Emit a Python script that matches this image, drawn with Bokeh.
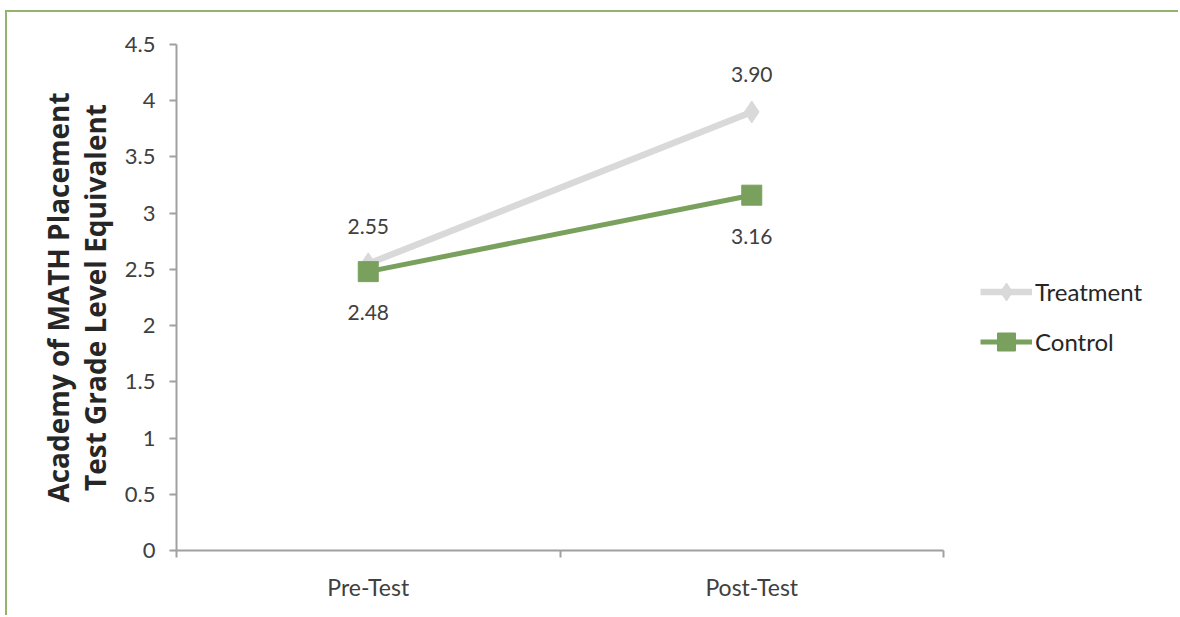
from bokeh.plotting import figure
from bokeh.models import (Range1d, LinearAxis, FixedTicker, Legend,
                          LegendItem, ColumnDataSource)
from bokeh.core.properties import value
from bokeh.embed import file_html
from bokeh.resources import INLINE

# Data
phases = ["Pre-Test", "Post-Test"]
treatment = [2.55, 3.90]
control = [2.48, 3.16]
treatment_labels = ["2.55", "3.90"]
control_labels = ["2.48", "3.16"]
y_ticks = [0, 0.5, 1, 1.5, 2, 2.5, 3, 3.5, 4, 4.5]
y_tick_labels = ["0", "0.5", "1", "1.5", "2", "2.5", "3", "3.5", "4", "4.5"]
title_lines = ["Academy of MATH Placement", "Test Grade Level Equivalent"]

GRAY = "#d9d9d9"
GREEN = "#79a05c"
AXIS = "#a0a0a0"
TEXT = "#404040"
FRAME = "#92b46e"
FONT = "Lato"

# each phase occupies one unit slot; points sit in the middle of their slot
centers = [i + 0.5 for i in range(len(phases))]
edges = list(range(len(phases) + 1))
n = len(phases)
# the plotting frame runs on to the right edge so the legend can live inside it;
# the x axis itself stops at the last slot boundary
x_end = n * 1004 / 767

p = figure(width=1173, height=605, x_range=Range1d(0, x_end),
           y_range=Range1d(0, 4.5), output_backend="svg", toolbar_location=None,
           x_axis_location=None, y_axis_location=None,
           min_border_left=169, min_border_right=0, min_border_top=32,
           min_border_bottom=67)
p.styles = {"border-left": f"2px solid {FRAME}", "border-top": f"2px solid {FRAME}",
            "margin-left": "5px", "margin-top": "10px"}
p.outline_line_color = None
p.grid.visible = False
p.background_fill_color = "white"

xaxis = LinearAxis(ticker=FixedTicker(ticks=centers, minor_ticks=edges), bounds=(0, n),
                   major_label_overrides={c: s for c, s in zip(centers, phases)})
xaxis.axis_line_color = AXIS
xaxis.axis_line_width = 2
xaxis.major_tick_line_color = None
xaxis.minor_tick_line_color = AXIS
xaxis.minor_tick_line_width = 2
xaxis.minor_tick_out = 7
xaxis.minor_tick_in = 0
xaxis.major_label_text_font = FONT
xaxis.major_label_text_font_size = "23px"
xaxis.major_label_text_color = TEXT
xaxis.major_label_standoff = 15
p.add_layout(xaxis, "below")

yaxis = LinearAxis(ticker=FixedTicker(ticks=y_ticks),
                   major_label_overrides={t: s for t, s in zip(y_ticks, y_tick_labels)})
yaxis.axis_line_color = AXIS
yaxis.axis_line_width = 2
yaxis.major_tick_line_color = AXIS
yaxis.major_tick_line_width = 2
yaxis.major_tick_out = 7
yaxis.major_tick_in = 0
yaxis.minor_tick_line_color = None
yaxis.major_label_text_font = FONT
yaxis.major_label_text_font_size = "22px"
yaxis.major_label_text_color = TEXT
yaxis.major_label_standoff = 14
yaxis.axis_label = title_lines[1]
yaxis.axis_label_standoff = 8
p.add_layout(yaxis, "left")

# outer line of the y title carried by a bare axis
yaxis2 = LinearAxis(ticker=FixedTicker(ticks=[]), axis_label=title_lines[0])
yaxis2.axis_line_color = None
yaxis2.major_tick_line_color = None
yaxis2.minor_tick_line_color = None
yaxis2.major_label_text_font_size = "0px"
yaxis2.major_label_standoff = 0
yaxis2.axis_label_standoff = -4
p.add_layout(yaxis2, "left")

for ax in (yaxis, yaxis2):
    ax.axis_label_text_font = "Open Sans"
    ax.axis_label_text_font_style = "bold"
    ax.axis_label_text_font_size = "28px"
    ax.axis_label_text_color = "#262626"

src_t = ColumnDataSource(dict(x=centers, y=treatment, lab=treatment_labels))
src_c = ColumnDataSource(dict(x=centers, y=control, lab=control_labels))

lt = p.line("x", "y", source=src_t, line_color=GRAY, line_width=6.5)
mt = p.scatter("x", "y", source=src_t, marker="diamond", size=22, fill_color=GRAY,
               line_color=GRAY)
lc = p.line("x", "y", source=src_c, line_color=GREEN, line_width=5)
mc = p.scatter("x", "y", source=src_c, marker="square", size=20, fill_color=GREEN,
               line_color=GREEN)

p.text("x", "y", text="lab", source=src_t, text_font=value(FONT), text_font_size="21px",
       text_color=TEXT, text_align="center", text_baseline="middle", y_offset=-37)
p.text("x", "y", text="lab", source=src_c, text_font=value(FONT), text_font_size="21px",
       text_color=TEXT, text_align="center", text_baseline="middle", y_offset=41)

legend = Legend(items=[LegendItem(label="Treatment", renderers=[lt, mt]),
                       LegendItem(label="Control", renderers=[lc, mc])],
                location=(804, 186), orientation="vertical")
legend.border_line_color = None
legend.background_fill_alpha = 0
legend.glyph_width = 52
legend.glyph_height = 45
legend.label_height = 45
legend.spacing = 5
legend.padding = 0
legend.margin = 0
legend.label_standoff = 3
legend.label_text_font = FONT
legend.label_text_font_size = "24px"
legend.label_text_color = "#262626"
p.add_layout(legend, "center")

open("out.html", "w").write(file_html(p, INLINE))
